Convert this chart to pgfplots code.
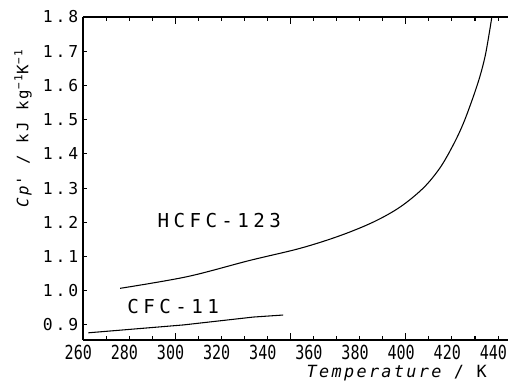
\documentclass[border=0pt]{standalone}
\usepackage{pgfplots}
\pgfplotsset{compat=1.18}
\usepackage{fontspec}
\setmainfont{DejaVu Sans Mono}
\newfontfamily\xtfont{DejaVu Sans Mono}[FakeStretch=0.78]
\newfontfamily\ytfont{DejaVu Sans Mono}[LetterSpace=18]
\newfontfamily\lblfont{DejaVu Sans Mono}[LetterSpace=23]
\newfontfamily\axfont{DejaVu Sans Mono}[LetterSpace=14]

\pgfplotstableread{
x y
276.1 1.007
305.1 1.041
332.0 1.088
354.2 1.124
371.5 1.161
386.0 1.201
397.6 1.245
407.7 1.301
414.9 1.360
420.7 1.428
425.0 1.490
429.3 1.568
432.2 1.628
434.4 1.686
436.1 1.750
437.3 1.800
}\hcfc

\pgfplotstableread{
x y
262.3 0.877
303.5 0.900
333.8 0.923
346.8 0.929
}\cfc

\begin{document}
\begin{tikzpicture}
\begin{axis}[
  scale only axis,
  width=318.75pt, height=242.25pt,
  at={(0pt,0pt)}, anchor=south west,
  xmin=260, xmax=444.3, ymin=0.856, ymax=1.8,
  axis x line=box, axis y line=left,
  axis line style={-, line width=0.9pt},
  tick align=inside,
  major tick length=0pt,
  minor tick length=3pt,
  xtick={260,280,...,440},
  minor xtick={260,270,...,440},
  ytick={0.9,1.0,1.1,1.2,1.3,1.4,1.5,1.6,1.7,1.8},
  minor ytick={0.9,1.0,1.1,1.2,1.3,1.4,1.5,1.6,1.7,1.8},
  extra x ticks={300,350,400},
  extra x tick labels={},
  extra x tick style={major tick length=5pt},
  every tick/.style={black, line width=0.8pt},
  /pgf/number format/assume math mode=true,
  xticklabel style={font=\xtfont\fontsize{14.5}{15}\selectfont, xshift=-3.5pt},
  yticklabel style={font=\ytfont\fontsize{12.3}{14}\selectfont},
  yticklabel={\pgfmathprintnumber[fixed,fixed zerofill,precision=1]{\tick}},
  xticklabel={\pgfmathprintnumber[int detect,1000 sep={}]{\tick}},
  xlabel={{\itshape Temperature} / K},
  xlabel style={font=\axfont\fontsize{12.6}{14}\selectfont, at={(axis description cs:0.738,-0.102)}, anchor=center},
  ylabel={{\itshape Cp}' / kJ kg\textsuperscript{−1}K\textsuperscript{−1}},
  ylabel style={font=\axfont\fontsize{11.8}{14}\selectfont, at={(axis description cs:-0.141,0.656)}, anchor=center},
  clip=false,
]
\addplot[black, line width=0.8pt, smooth, tension=0.55] table[x=x,y=y]{\hcfc};
\addplot[black, line width=0.8pt] table[x=x,y=y]{\cfc};
\node[font=\lblfont\fontsize{14.4}{16}\selectfont] at (axis cs:319.1,1.206) {HCFC-123};
\node[font=\lblfont\fontsize{14.4}{16}\selectfont] at (axis cs:299.1,0.953) {CFC-11};
\end{axis}
\pgfresetboundingbox
\path[use as bounding box] (-62.25pt,-30.75pt) rectangle (318.75pt,255pt);
\end{tikzpicture}
\end{document}
